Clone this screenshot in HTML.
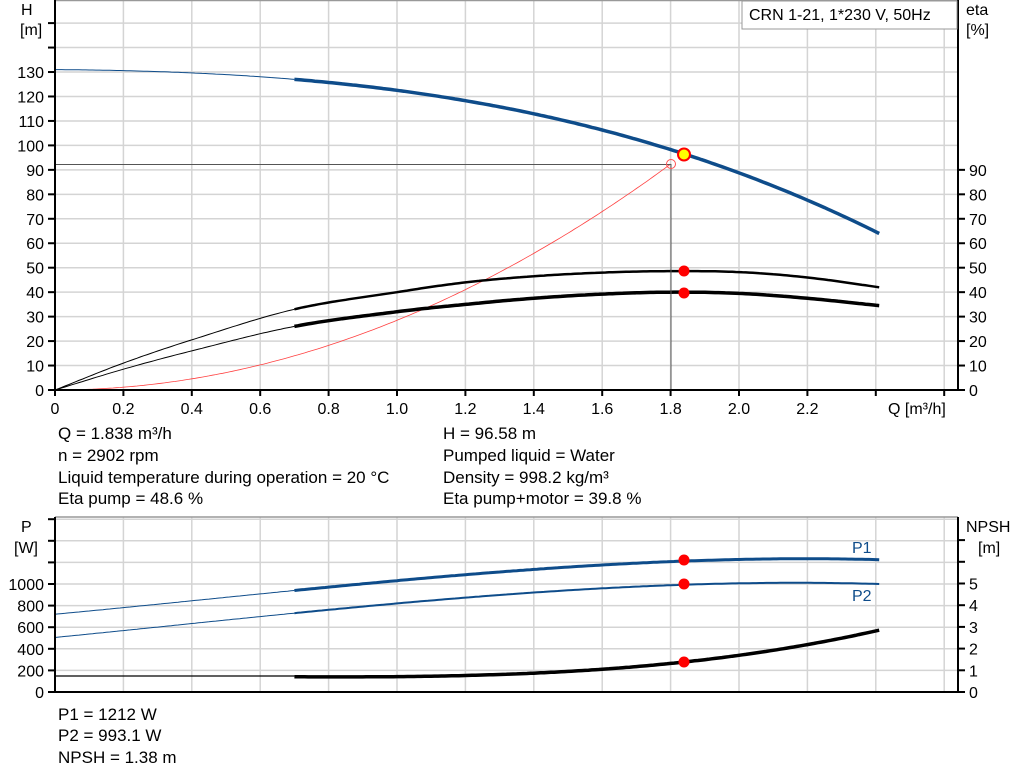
<!DOCTYPE html>
<html><head><meta charset="utf-8"><style>
body{margin:0;background:#fff;}
svg{display:block;font-family:"Liberation Sans",sans-serif;}
</style></head><body>
<svg id="s" width="1024" height="781" viewBox="0 0 1024 781" xmlns="http://www.w3.org/2000/svg">
<g id="grid" stroke="#d4d4d4" stroke-width="1.5" fill="none"></g>
<g id="curves" fill="none"></g>
<g id="axes" stroke="#000" stroke-width="2" fill="none"></g>
<g id="txt" font-size="16" fill="#000"></g>
<rect x="742" y="1" width="215" height="28" fill="#fff" stroke="#999" stroke-width="1"/>
<text x="749" y="20" font-size="16">CRN 1-21, 1*230 V, 50Hz</text>
</svg>
<script>
const NS="http://www.w3.org/2000/svg";
function el(p,t,a,txt){const e=document.createElementNS(NS,t);for(const k in a)e.setAttribute(k,a[k]);if(txt!==undefined)e.textContent=txt;document.getElementById(p).appendChild(e);return e;}
const X=q=>55+342*q;
const L=55,R=958;
for(let i=1;i<=13;i++){const x=X(i*0.2);el('grid','line',{x1:x,y1:0,x2:x,y2:390});}
for(let h=10;h<=160;h+=10){const y=390-2.446*h;el('grid','line',{x1:L,y1:y,x2:R,y2:y});}
for(let i=1;i<=13;i++){const x=X(i*0.2);el('grid','line',{x1:x,y1:517,x2:x,y2:692});}
for(let p=200;p<=1600;p+=200){const y=692-0.108*p;el('grid','line',{x1:L,y1:y,x2:R,y2:y});}
el('grid','line',{x1:L,y1:517,x2:R,y2:517,stroke:'#999'});
el('grid','line',{x1:L,y1:0.5,x2:R,y2:0.5,stroke:'#999'});
function cr(pts){return q=>{let i=0;while(i<pts.length-2&&q>pts[i+1][0])i++;
const p0=pts[Math.max(i-1,0)],p1=pts[i],p2=pts[i+1],p3=pts[Math.min(i+2,pts.length-1)];
const t=(q-p1[0])/(p2[0]-p1[0]);
const m1=(p2[1]-p0[1])/(p2[0]-p0[0])*(p2[0]-p1[0]);
const m2=(p3[1]-p1[1])/(p3[0]-p1[0])*(p2[0]-p1[0]);
const t2=t*t,t3=t2*t;
return (2*t3-3*t2+1)*p1[1]+(t3-2*t2+t)*m1+(-2*t3+3*t2)*p2[1]+(t3-t2)*m2;};}
function lag(pts){return q=>{let s=0;for(let i=0;i<pts.length;i++){let t=pts[i][1];for(let j=0;j<pts.length;j++)if(j!=i)t*=(q-pts[j][0])/(pts[i][0]-pts[j][0]);s+=t;}return s;};}
function path(f,a,b,fy){let d='';for(let q=a;q<=b+1e-9;q+=0.01){d+=(d?'L':'M')+X(q).toFixed(1)+','+fy(f(q)).toFixed(1);}return d;}
const yH=h=>390-2.446*h, yP=p=>692-0.108*p, yN=n=>692-21.7*n;
const H=lag([[0,131],[0.7,127],[1.838,96.6],[2.41,64]]);
const E1=cr([[0,0],[0.2,11],[0.4,20.5],[0.7,33],[1.0,40],[1.2,44],[1.4,46.5],[1.6,48],[1.8,48.6],[2.0,48.2],[2.2,46],[2.41,42]]);
const E2=cr([[0,0],[0.2,8.5],[0.4,16],[0.7,26],[1.0,32],[1.2,35],[1.4,37.5],[1.6,39.2],[1.8,40],[2.0,39.5],[2.2,37.5],[2.41,34.5]]);
const P1=lag([[0,720],[0.7,940],[1.838,1212],[2.41,1225]]);
const P2=lag([[0,505],[0.7,730],[1.838,993],[2.41,1000]]);
const NP=lag([[0.7,0.7],[1.2,0.76],[1.838,1.38],[2.41,2.85]]);
function curve(f,fy,col,thin,thick){
el('curves','path',{d:path(f,0,0.7,fy),stroke:col,'stroke-width':thin});
el('curves','path',{d:path(f,0.7,2.41,fy),stroke:col,'stroke-width':thick});}
el('curves','path',{d:path(q=>28.5*q*q,0,1.8,yH),stroke:'#ff4040','stroke-width':0.8});
curve(H,yH,'#0e4c8a',1,3.5);
curve(E1,yH,'#000',1,2.5);
curve(E2,yH,'#000',1,3.5);
curve(P1,yP,'#0e4c8a',1,3);
curve(P2,yP,'#0e4c8a',1,2);
el('curves','path',{d:'M55,676L'+X(0.7)+',676',stroke:'#000','stroke-width':1.2});
el('curves','path',{d:path(NP,0.7,2.41,yN),stroke:'#000','stroke-width':3.5});
el('curves','path',{d:'M55,164.5H671V390',stroke:'#555','stroke-width':1});
el('curves','circle',{cx:671,cy:164,r:4.5,stroke:'#ff5050','stroke-width':1,fill:'none'});
el('curves','circle',{cx:684,cy:154.5,r:6,stroke:'#f00','stroke-width':2,fill:'#ff0'});
[[684,271],[684,293],[684,560],[684,584],[684,662]].forEach(p=>el('curves','circle',{cx:p[0],cy:p[1],r:5.5,fill:'#f00'}));
el('axes','line',{x1:55,y1:0,x2:55,y2:391});
el('axes','line',{x1:54,y1:390,x2:R+1,y2:390});
el('axes','line',{x1:R,y1:0,x2:R,y2:391});
el('axes','line',{x1:55,y1:517,x2:55,y2:693});
el('axes','line',{x1:54,y1:692,x2:R+1,y2:692});
el('axes','line',{x1:R,y1:517,x2:R,y2:693});
for(let h=0;h<=150;h+=10){const y=yH(h);el('axes','line',{x1:48,y1:y,x2:55,y2:y});if(h<=130)el('txt','text',{x:44,y:y+6,'text-anchor':'end'},h);}
for(let e=0;e<=90;e+=10){const y=yH(e);el('axes','line',{x1:R,y1:y,x2:R+7,y2:y});el('txt','text',{x:969,y:y+6},e);}
for(let i=0;i<=13;i++){const x=X(i*0.2);el('axes','line',{x1:x,y1:390,x2:x,y2:396});if(i<=11)el('txt','text',{x:x,y:414,'text-anchor':'middle'},i==0?'0':(i*0.2).toFixed(1));}
el('txt','text',{x:888,y:414},'Q [m³/h]');
for(let p=0;p<=1600;p+=200){const y=yP(p);el('axes','line',{x1:48,y1:y,x2:55,y2:y});if(p<=1000)el('txt','text',{x:44,y:y+6,'text-anchor':'end'},p);}
for(let n=0;n<=7;n++){const y=yN(n);el('axes','line',{x1:R,y1:y,x2:R+7,y2:y});if(n<=5)el('txt','text',{x:969,y:y+6},n);}
const T=[[21,15,'H'],[20,35,'[m]'],[966,15,'eta'],[966,35,'[%]'],[21,532,'P'],[14,553,'[W]'],[966,532,'NPSH'],[978,553,'[m]']];
T.forEach(t=>el('txt','text',{x:t[0],y:t[1]},t[2]));
const I=[[58,439,'Q = 1.838 m³/h'],[58,461,'n = 2902 rpm'],[58,483,'Liquid temperature during operation = 20 °C'],[58,504,'Eta pump = 48.6 %'],
[443,439,'H = 96.58 m'],[443,461,'Pumped liquid = Water'],[443,483,'Density = 998.2 kg/m³'],[443,504,'Eta pump+motor = 39.8 %'],
[58,720,'P1 = 1212 W'],[58,741,'P2 = 993.1 W'],[58,763,'NPSH = 1.38 m']];
I.forEach(t=>el('txt','text',{x:t[0],y:t[1],'font-size':17},t[2]));
el('txt','text',{x:852,y:553,fill:'#0e4c8a'},'P1');
el('txt','text',{x:852,y:601,fill:'#0e4c8a'},'P2');
</script>
</body></html>
